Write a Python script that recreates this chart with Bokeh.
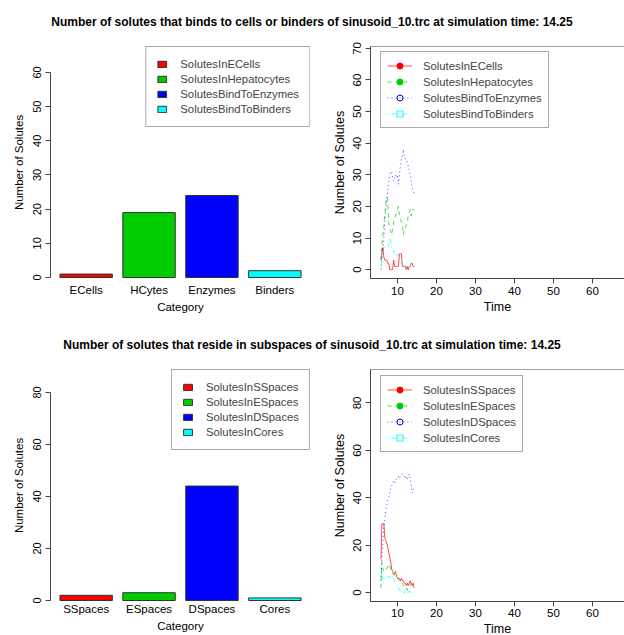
from bokeh.plotting import figure
from bokeh.models import (FactorRange, Range1d, Legend, LegendItem, Span, Div, Title,
                          FixedTicker, ColumnDataSource)
from bokeh.layouts import column, row
from bokeh.embed import file_html
from bokeh.resources import INLINE

FONT = "Liberation Sans"

# ---------------- data ----------------
time = [5.75, 6.0, 6.25, 6.5, 6.75, 7.0, 7.25, 7.5, 7.75, 8.0, 8.25, 8.5, 8.75,
        9.0, 9.25, 9.5, 9.75, 10.0, 10.25, 10.5, 10.75, 11.0, 11.25, 11.5, 11.75,
        12.0, 12.25, 12.5, 12.75, 13.0, 13.25, 13.5, 13.75, 14.0, 14.25]

bind_categories = ["ECells", "HCytes", "Enzymes", "Binders"]
bind_values = [1, 19, 24, 2]
bind_labels = ["SolutesInECells", "SolutesInHepatocytes",
               "SolutesBindToEnzymes", "SolutesBindToBinders"]
ecells = [3, 5, 7, 4, 3, 3, 3, 2, 2, 0, 0, 0, 0, 3, 1, 1, 1, 1, 1, 5, 5, 5, 1, 1,
          1, 1, 0, 1, 0, 1, 1, 2, 2, 1, 1]
hepatocytes = [3, 8, 11, 14, 18, 21, 23, 22, 15, 13, 12, 11, 13, 15, 16, 17, 18,
               19, 20, 17, 16, 15, 14, 11, 13, 13, 14, 15, 17, 18, 19, 17, 19, 19, 19]
enzymes = [0, 3, 6, 10, 15, 19, 22, 25, 28, 30, 31, 31, 29, 28, 29, 30, 29, 30,
           27, 30, 33, 35, 36, 38, 36, 35, 35, 34, 33, 31, 30, 28, 26, 25, 24]
binders = [0, 3, 5, 6, 7, 7, 7, 7, 8, 10, 9, 7, 6, 6, 5, 5, 4, 5, 4, 3, 2, 2, 1, 1,
           1, 1, 1, 1, 1, 1, 1, 2, 2, 2, 2]

space_categories = ["SSpaces", "ESpaces", "DSpaces", "Cores"]
space_values = [2, 3, 44, 1]
space_labels = ["SolutesInSSpaces", "SolutesInESpaces",
                "SolutesInDSpaces", "SolutesInCores"]
sspaces = [14, 29, 29, 29, 23, 22, 21, 19, 17, 15, 13, 10, 9, 8, 8, 9, 7, 6, 6, 6,
           5, 6, 5, 5, 4, 4, 3, 4, 3, 4, 5, 4, 3, 4, 2]
espaces = [2, 13, 10, 9, 9, 10, 10, 11, 11, 12, 10, 9, 8, 8, 7, 7, 6, 6, 6, 5, 5, 4,
           4, 3, 3, 2, 2, 1, 2, 2, 3, 4, 3, 3, 3]
dspaces = [5, 14, 22, 27, 31, 35, 37, 39, 40, 42, 44, 45, 46, 47, 46, 47, 48, 48,
           49, 48, 49, 50, 50, 49, 49, 48, 49, 48, 49, 50, 48, 46, 42, 43, 44]
cores = [5, 9, 6, 6, 6, 6, 6, 7, 6, 7, 6, 6, 7, 6, 5, 4, 3, 2, 2, 1, 1, 0, 1, 0, 0,
         1, 0, 0, 1, 0, 1, 0, 0, 1, 1]

bind_ticks = [0, 10, 20, 30, 40, 50, 60]
space_ticks = [0, 20, 40, 60, 80]
time_ticks = [10, 20, 30, 40, 50, 60]
bind_line_ticks = [0, 10, 20, 30, 40, 50, 60, 70]

title_top = "Number of solutes that binds to cells or binders of sinusoid_10.trc at simulation time: 14.25"
title_bottom = "Number of solutes that reside in subspaces of sinusoid_10.trc at simulation time: 14.25"

COLORS = ["#FF0000", "#00CD00", "#0000FF", "#00FFFF"]
DASHES = ["solid", "4 4", "1 3", "1 3 4 3"]
MARKERS = [("circle", True), ("circle", True), ("circle", False), ("square", False)]
AXIS_COL = "#444444"


def style_axes(p):
    p.xgrid.visible = False
    p.ygrid.visible = False
    p.outline_line_color = None
    p.background_fill_color = "white"
    p.border_fill_color = "white"
    for ax in p.axis:
        ax.major_label_text_font = FONT
        ax.axis_label_text_font = FONT
        ax.axis_label_text_font_style = "normal"
        ax.major_label_text_color = "black"
        ax.axis_label_text_color = "black"
        ax.minor_tick_line_color = None
        ax.major_tick_in = 0
        ax.major_tick_out = 5
        ax.axis_line_color = AXIS_COL
        ax.major_tick_line_color = AXIS_COL


def xtitle(p, text, size, standoff):
    # x-axis title placed under the tick labels
    p.add_layout(Title(text=text, align="center", text_font=FONT, text_font_size=size,
                       text_font_style="normal", text_color="black",
                       standoff=standoff, offset=0), "below")


def bar_figure(cats, vals, labels, yr, ticks, height, btop, bbottom, s1):
    src = ColumnDataSource(dict(cat=cats, val=vals, color=COLORS))
    p = figure(width=320, height=height,
               x_range=FactorRange(factors=cats, factor_padding=0.2, range_padding=0.18,
                                   range_padding_units="absolute"),
               y_range=Range1d(*yr), output_backend="svg", toolbar_location=None,
               title=None, min_border_left=50, min_border_right=10,
               min_border_top=btop, min_border_bottom=bbottom)
    r = p.vbar(x="cat", top="val", width=1, bottom=0, source=src, fill_color="color",
               line_color="#333333", line_width=1)
    style_axes(p)
    p.xaxis.axis_line_color = None
    p.xaxis.major_tick_line_color = None
    p.xaxis.major_tick_out = 0
    p.xaxis.major_label_text_font_size = "11.5px"
    p.xaxis.major_label_standoff = s1
    xtitle(p, "Category", "11.5px", 0)
    p.yaxis.ticker = FixedTicker(ticks=ticks)
    p.yaxis.bounds = (ticks[0], ticks[-1])
    p.yaxis.major_label_orientation = "vertical"
    p.yaxis.major_label_text_font_size = "11px"
    p.yaxis.major_label_standoff = 4
    p.yaxis.axis_label = "Number of Solutes"
    p.yaxis.axis_label_text_font_size = "11.5px"
    p.yaxis.axis_label_standoff = 6
    items = [LegendItem(label=labels[i], renderers=[r], index=i) for i in range(len(labels))]
    leg = Legend(items=items, location="top_right", margin=0, padding=10, spacing=1,
                 glyph_width=11, glyph_height=8, label_height=14, label_standoff=13,
                 label_text_font=FONT, label_text_font_size="11.3px",
                 border_line_color="#555555", border_line_width=1,
                 background_fill_color="white", background_fill_alpha=1)
    p.add_layout(leg)
    return p


def line_figure(series, labels, yr, ticks, height, btop, bbottom, s1, legloc):
    p = figure(width=304, height=height, x_range=Range1d(3.077, 68.2),
               y_range=Range1d(*yr), output_backend="svg", toolbar_location=None,
               title=None, min_border_left=50, min_border_right=0,
               min_border_top=btop, min_border_bottom=bbottom)
    # an off-screen range: the marker renderers exist only to give the legend keys
    p.extra_y_ranges = {"legend_only": Range1d(1000, 1001)}
    items = []
    for i, s in enumerate(series):
        src = ColumnDataSource(dict(t=time, v=s))
        lr = p.line("t", "v", source=src, line_color=COLORS[i], line_dash=DASHES[i],
                    line_width=1, line_alpha=0.7)
        mk, filled = MARKERS[i]
        mr = p.scatter("t", "v", source=src, y_range_name="legend_only",
                       marker=mk, size=7, line_color=COLORS[i],
                       fill_color=COLORS[i] if filled else None, line_width=1)
        items.append(LegendItem(label=labels[i], renderers=[lr, mr]))
    style_axes(p)
    p.xaxis.ticker = FixedTicker(ticks=time_ticks)
    p.yaxis.ticker = FixedTicker(ticks=ticks)
    p.xaxis.major_label_text_font_size = "11.5px"
    p.xaxis.major_label_standoff = s1
    xtitle(p, "Time", "12.5px", 0)
    p.yaxis.major_label_orientation = "vertical"
    p.yaxis.major_label_text_font_size = "11.5px"
    p.yaxis.major_label_standoff = 4
    p.yaxis.axis_label = "Number of Solutes"
    p.yaxis.axis_label_text_font_size = "12.5px"
    p.yaxis.axis_label_standoff = 4
    p.add_layout(Span(location=yr[1], dimension="width", line_color=AXIS_COL, line_width=1))
    leg = Legend(items=items, location=legloc, margin=0, padding=6, spacing=1,
                 glyph_width=25, glyph_height=15, label_height=15, label_standoff=11,
                 label_text_font=FONT, label_text_font_size="11.3px",
                 border_line_color="#555555", border_line_width=1,
                 background_fill_color="white", background_fill_alpha=1)
    p.add_layout(leg)
    return p


def title_div(text, height, pad_top):
    html = ('<div style="width:610px;padding-left:14px;padding-top:%dpx;text-align:center;'
            'font-family:\'Liberation Sans\';font-weight:bold;font-size:12px;color:#000;'
            'line-height:20px;white-space:nowrap;">%s</div>' % (pad_top, text))
    return Div(text=html, width=624, height=height, margin=0)


p1 = bar_figure(bind_categories, bind_values, bind_labels, (-0.29, 67.6), bind_ticks,
                288, 12, 44, 5)
p2 = line_figure([ecells, hepatocytes, enzymes, binders], bind_labels, (-2.81, 70.6),
                 bind_line_ticks, 288, 9, 44, 3, (10, 150))
p3 = bar_figure(space_categories, space_values, space_labels, (-0.383, 88.8), space_ticks,
                279, 13, 33, 1)
p4 = line_figure([sspaces, espaces, dspaces, cores], space_labels, (-3.73, 94.1),
                 space_ticks, 279, 9, 34, 2, (10, 149))

layout = column(title_div(title_top, 34, 12), row(p1, p2),
                title_div(title_bottom, 34, 13), row(p3, p4))

open("out.html", "w").write(file_html(layout, INLINE))
